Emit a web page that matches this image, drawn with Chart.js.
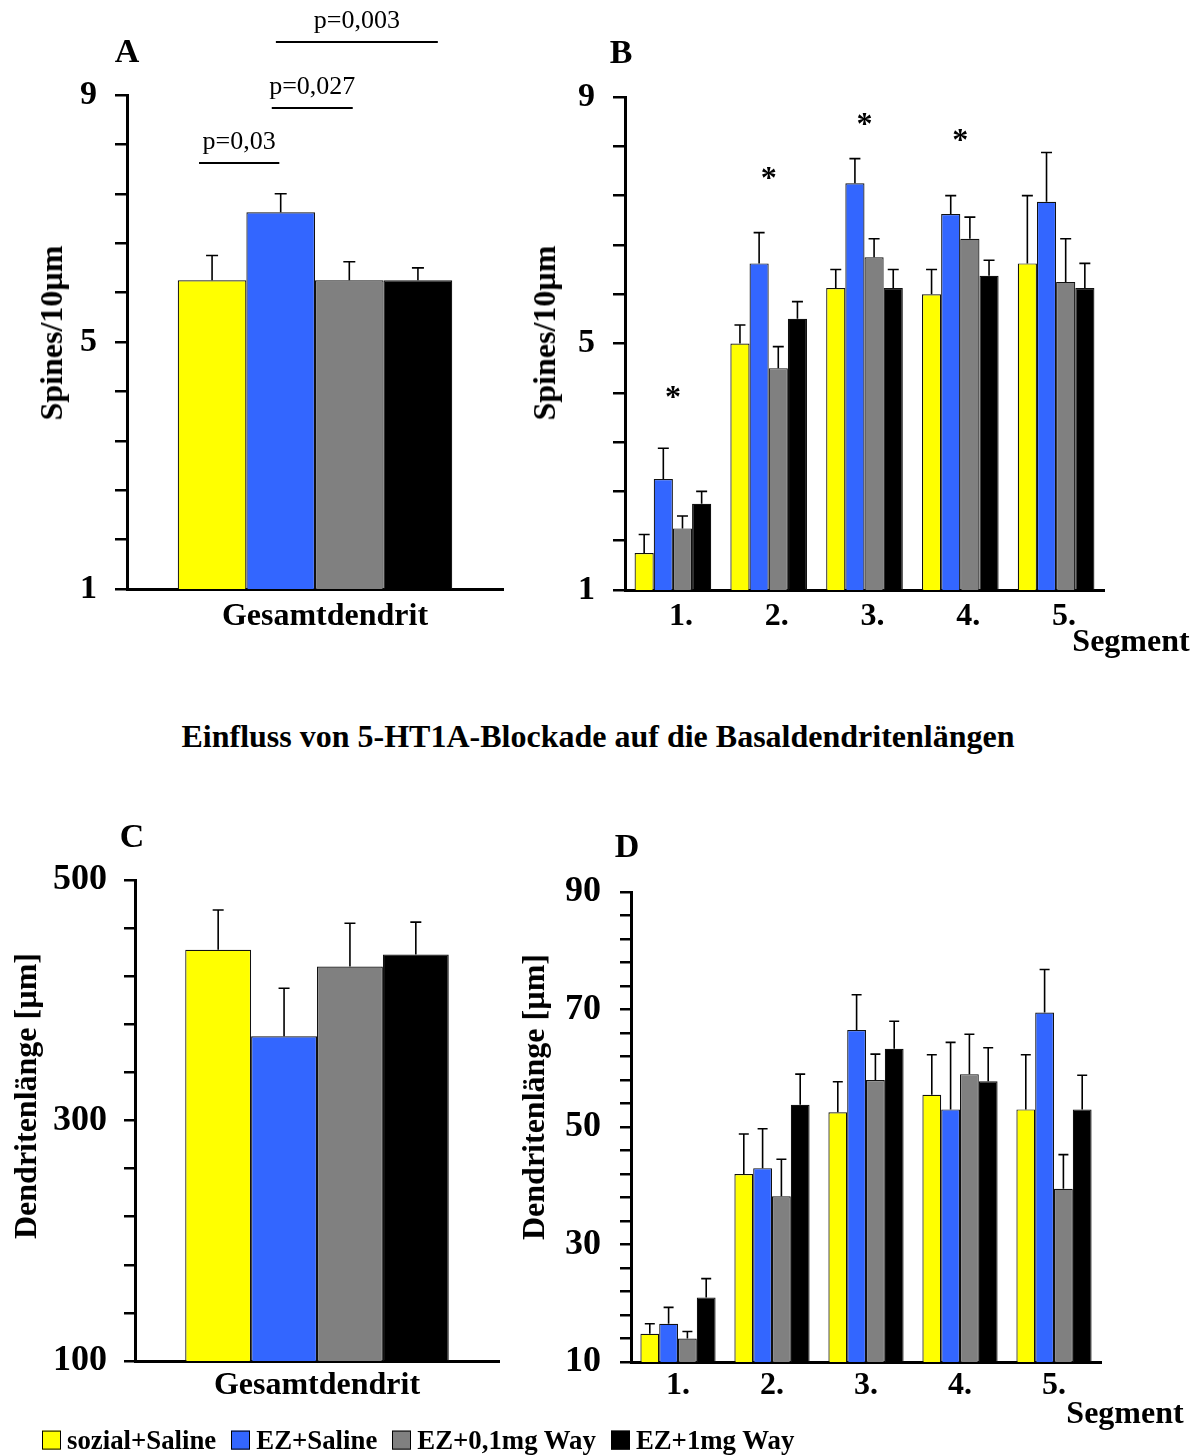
<!DOCTYPE html>
<html>
<head>
<meta charset="utf-8">
<script src="https://cdn.jsdelivr.net/npm/chart.js@4.4.1/dist/chart.umd.min.js"></script>
<style>
html,body{margin:0;padding:0;background:#fff;}
body{width:1199px;height:1456px;position:relative;overflow:hidden;font-family:"Liberation Serif","Times New Roman",serif;color:#000;}
canvas{position:absolute;}
.t{position:absolute;white-space:nowrap;font-weight:bold;line-height:1;transform:translate(-50%,-50%);}
.rot{transform:translate(-50%,-50%) rotate(-90deg);}
#legend{position:absolute;left:42px;top:1440px;transform:translateY(-50%);display:flex;align-items:center;font-weight:bold;font-size:26.8px;line-height:1;white-space:nowrap;}
#legend .item{display:flex;align-items:center;margin-right:15px;}
#legend .box{width:17px;height:17px;border:1px solid #000;margin-right:6px;}
</style>
</head>
<body>
<canvas id="cA" width="520" height="660" style="left:0;top:0;width:520px;height:660px"></canvas>
<canvas id="cB" width="679" height="660" style="left:520px;top:0;width:679px;height:660px"></canvas>
<canvas id="cC" width="510" height="656" style="left:0;top:800px;width:510px;height:656px"></canvas>
<canvas id="cD" width="689" height="636" style="left:510px;top:820px;width:689px;height:636px"></canvas>

<div class="t" style="left:127px;top:51px;font-size:34px">A</div>
<div class="t" style="left:621px;top:52px;font-size:34px">B</div>
<div class="t" style="left:132px;top:836px;font-size:34px">C</div>
<div class="t" style="left:627px;top:846px;font-size:34px">D</div>

<div class="t rot" style="left:51px;top:333px;font-size:32px">Spines/10µm</div>
<div class="t rot" style="left:544px;top:333px;font-size:32px">Spines/10µm</div>
<div class="t rot" style="left:25px;top:1096px;font-size:32px">Dendritenlänge [µm]</div>
<div class="t rot" style="left:533px;top:1097px;font-size:32px">Dendritenlänge [µm]</div>

<div class="t" style="left:1131px;top:640px;font-size:32px">Segment</div>
<div class="t" style="left:1125px;top:1412px;font-size:32px">Segment</div>

<div class="t" style="left:598px;top:736px;font-size:32px">Einfluss von 5-HT1A-Blockade auf die Basaldendritenlängen</div>

<div id="legend"></div>

<script>
// ---------- DATA ----------
const seriesNames  = ['sozial+Saline', 'EZ+Saline', 'EZ+0,1mg Way', 'EZ+1mg Way'];
const seriesColors = ['#FFFF00', '#3366FF', '#808080', '#000000'];

const totalCategory = ['Gesamtdendrit'];
const segmentLabels = ['1.', '2.', '3.', '4.', '5.'];

// A: spines per 10 µm, whole dendrite (one value per group)
const spinesTotal    = [6.0, 7.1, 6.0, 6.0];
const spinesTotalErr = [0.4, 0.3, 0.3, 0.2];

// B: spines per 10 µm, per segment
const spinesSozialSaline    = [1.6, 5.0, 5.9, 5.8, 6.3];
const spinesEZSaline        = [2.8, 6.3, 7.6, 7.1, 7.3];
const spinesEZ01Way         = [2.0, 4.6, 6.4, 6.7, 6.0];
const spinesEZ1Way          = [2.4, 5.4, 5.9, 6.1, 5.9];
const spinesSozialSalineErr = [0.3, 0.3, 0.3, 0.4, 1.1];
const spinesEZSalineErr     = [0.5, 0.5, 0.4, 0.3, 0.8];
const spinesEZ01WayErr      = [0.2, 0.35, 0.3, 0.35, 0.7];
const spinesEZ1WayErr       = [0.2, 0.28, 0.3, 0.25, 0.4];

// C: dendrite length, whole dendrite
const lengthTotal    = [442, 370, 428, 438];
const lengthTotalErr = [33, 40, 36, 27];

// D: dendrite length per segment
const lengthSozialSaline    = [14.8, 42.0, 52.5, 55.5, 53.0];
const lengthEZSaline        = [16.5, 43.0, 66.5, 53.0, 69.5];
const lengthEZ01Way         = [14.0, 38.2, 58.0, 59.0, 39.5];
const lengthEZ1Way          = [21.0, 53.8, 63.3, 57.8, 53.0];
const lengthSozialSalineErr = [1.7, 6.8, 5.2, 6.8, 9.3];
const lengthEZSalineErr     = [2.8, 6.7, 6.0, 11.4, 7.3];
const lengthEZ01WayErr      = [1.2, 6.3, 4.4, 6.8, 5.8];
const lengthEZ1WayErr       = [3.2, 5.2, 4.7, 5.7, 5.8];

// tick labels
const spinesTickLabels      = [1, 5, 9];
const lengthTotalTickLabels = [100, 300, 500];
const lengthSegTickLabels   = [10, 30, 50, 70, 90];

// significance annotations
const pValueTexts  = ['p=0,03', 'p=0,027', 'p=0,003'];
const pValueLevels = [7.9, 8.79, 9.86];           // spines/10µm level of bracket line
const pValueFrom   = [-0.19, 0.87, 0.93];         // in bar-pitch units from first bar
const pValueTo     = [0.98, 2.05, 3.29];
const starSegments = [0, 1, 2, 3];
const starLevels   = [4.22, 7.76, 8.64, 8.38];

// ---------- HELPERS ----------
const FONT = '"Liberation Serif", "Times New Roman", serif';

const errorBarPlugin = {
  id: 'errorBars',
  afterDatasetsDraw(chart, args, opts) {
    const ctx = chart.ctx, ys = chart.scales.y;
    const cap = opts.cap || 12;
    chart.data.datasets.forEach((ds, di) => {
      const meta = chart.getDatasetMeta(di);
      meta.data.forEach((bar, i) => {
        const top = ys.getPixelForValue(ds.data[i] + ds.errors[i]);
        ctx.save();
        ctx.strokeStyle = '#000';
        ctx.lineWidth = 1.6;
        ctx.beginPath();
        ctx.moveTo(bar.x, bar.y);
        ctx.lineTo(bar.x, top);
        ctx.moveTo(bar.x - cap / 2, top);
        ctx.lineTo(bar.x + cap / 2, top);
        ctx.stroke();
        ctx.restore();
      });
    });
  }
};

const pValuePlugin = {
  id: 'pValues',
  afterDraw(chart) {
    const ctx = chart.ctx, ys = chart.scales.y;
    const b0 = chart.getDatasetMeta(0).data[0];
    const b1 = chart.getDatasetMeta(1).data[0];
    const pitch = b1.x - b0.x;
    ctx.save();
    ctx.font = '26px ' + FONT;
    ctx.fillStyle = '#000';
    ctx.strokeStyle = '#000';
    ctx.lineWidth = 2;
    ctx.textAlign = 'center';
    ctx.textBaseline = 'middle';
    pValueTexts.forEach((txt, k) => {
      const x1 = b0.x + pValueFrom[k] * pitch;
      const x2 = b0.x + pValueTo[k] * pitch;
      const y = ys.getPixelForValue(pValueLevels[k]);
      ctx.beginPath();
      ctx.moveTo(x1, y);
      ctx.lineTo(x2, y);
      ctx.stroke();
      ctx.fillText(txt, (x1 + x2) / 2, y - 21);
    });
    ctx.restore();
  }
};

const starPlugin = {
  id: 'stars',
  afterDraw(chart) {
    const ctx = chart.ctx, xs = chart.scales.x, ys = chart.scales.y;
    ctx.save();
    ctx.font = 'bold 32px ' + FONT;
    ctx.fillStyle = '#000';
    ctx.textAlign = 'center';
    ctx.textBaseline = 'alphabetic';
    const m = ctx.measureText('*');
    const shift = (m.actualBoundingBoxAscent - m.actualBoundingBoxDescent) / 2;
    starSegments.forEach((s, k) => {
      ctx.fillText('*', xs.getPixelForValue(s), ys.getPixelForValue(starLevels[k]) + shift);
    });
    ctx.restore();
  }
};

function makeDatasets(values, errors, catPct) {
  return values.map((v, i) => ({
    label: seriesNames[i],
    data: v,
    errors: errors[i],
    backgroundColor: seriesColors[i],
    borderColor: '#111',
    borderWidth: 1.2,
    borderSkipped: 'bottom',
    barPercentage: 1.0,
    categoryPercentage: catPct
  }));
}

function makeChart(id, c) {
  return new Chart(document.getElementById(id), {
    type: 'bar',
    data: { labels: c.labels, datasets: makeDatasets(c.values, c.errors, c.catPct) },
    plugins: [errorBarPlugin].concat(c.extraPlugins || []),
    options: {
      responsive: false,
      animation: false,
      devicePixelRatio: 1,
      layout: { padding: { top: c.padTop, right: c.padRight, left: 0, bottom: 0 } },
      plugins: {
        legend: { display: false },
        tooltip: { enabled: false },
        errorBars: { cap: c.cap }
      },
      scales: {
        x: {
          offset: true,
          grid: { display: false, drawTicks: false },
          border: { display: true, color: '#000', width: 3 },
          ticks: {
            color: '#000',
            font: { family: FONT, size: 32, weight: 'bold' },
            padding: c.xPad,
            labelOffset: c.xLabelOffset || 0,
            maxRotation: 0,
            autoSkip: false
          },
          afterFit: s => { s.height = c.xHeight; }
        },
        y: {
          min: c.yMin,
          max: c.yMax,
          ticks: {
            stepSize: c.step,
            autoSkip: false,
            color: '#000',
            padding: c.yPad,
            font: { family: FONT, size: c.yFont, weight: 'bold' },
            callback: v => c.tickLabels.some(t => Math.abs(t - v) < 1e-6) ? String(Math.round(v)) : ''
          },
          grid: {
            display: true,
            drawOnChartArea: false,
            drawTicks: true,
            tickLength: c.tickLen,
            color: '#000',
            lineWidth: 2.5
          },
          border: { display: true, color: '#000', width: 3 },
          afterFit: s => { s.width = c.yWidth; }
        }
      }
    }
  });
}

// ---------- CHARTS ----------
makeChart('cA', {
  labels: totalCategory,
  values: spinesTotal.map(v => [v]),
  errors: spinesTotalErr.map(e => [e]),
  catPct: 0.73, cap: 12,
  yMin: 1, yMax: 9, step: 0.8, tickLabels: spinesTickLabels, yFont: 34, yPad: 18, tickLen: 12,
  yWidth: 127, xHeight: 71, padTop: 95, padRight: 17, xPad: 9, xLabelOffset: 10,
  extraPlugins: [pValuePlugin]
});

makeChart('cB', {
  labels: segmentLabels,
  values: [spinesSozialSaline, spinesEZSaline, spinesEZ01Way, spinesEZ1Way],
  errors: [spinesSozialSalineErr, spinesEZSalineErr, spinesEZ01WayErr, spinesEZ1WayErr],
  catPct: 0.80, cap: 11,
  yMin: 1, yMax: 9, step: 0.8, tickLabels: spinesTickLabels, yFont: 34, yPad: 18, tickLen: 12,
  yWidth: 105, xHeight: 70, padTop: 97, padRight: 95, xPad: 8, xLabelOffset: 8,
  extraPlugins: [starPlugin]
});

makeChart('cC', {
  labels: totalCategory,
  values: lengthTotal.map(v => [v]),
  errors: lengthTotalErr.map(e => [e]),
  catPct: 0.724, cap: 11,
  yMin: 100, yMax: 500, step: 40, tickLabels: lengthTotalTickLabels, yFont: 36, yPad: 17, tickLen: 11,
  yWidth: 135, xHeight: 95, padTop: 80, padRight: 11, xPad: 6, xLabelOffset: 0
});

makeChart('cD', {
  labels: segmentLabels,
  values: [lengthSozialSaline, lengthEZSaline, lengthEZ01Way, lengthEZ1Way],
  errors: [lengthSozialSalineErr, lengthEZSalineErr, lengthEZ01WayErr, lengthEZ1WayErr],
  catPct: 0.80, cap: 10,
  yMin: 10, yMax: 90, step: 4, tickLabels: lengthSegTickLabels, yFont: 36, yPad: 19, tickLen: 11,
  yWidth: 121, xHeight: 94, padTop: 72, padRight: 98, xPad: 5, xLabelOffset: 0
});

// ---------- LEGEND ----------
const legend = document.getElementById('legend');
seriesNames.forEach((name, i) => {
  const item = document.createElement('div');
  item.className = 'item';
  const box = document.createElement('div');
  box.className = 'box';
  box.style.background = seriesColors[i];
  const txt = document.createElement('span');
  txt.textContent = name;
  item.appendChild(box);
  item.appendChild(txt);
  legend.appendChild(item);
});
</script>
</body>
</html>
